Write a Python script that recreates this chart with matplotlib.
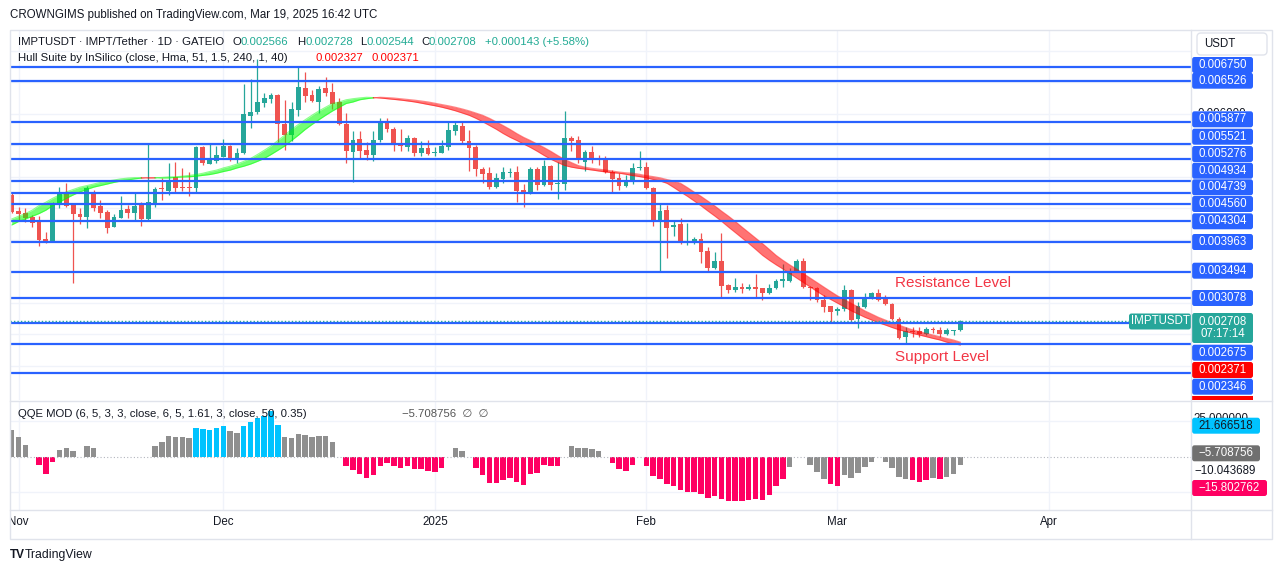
import numpy as np
import matplotlib
matplotlib.use("Agg")
import matplotlib.pyplot as plt
from matplotlib.lines import Line2D
from matplotlib.patches import Rectangle, FancyBboxPatch
from matplotlib.transforms import blended_transform_factory

# daily candles, day 0 = 2024-10-31 ... day 139 = 2025-03-19, prices in 1e-6 USDT
open_u = [4710, 4455, 4429, 4365, 4312, 4010, 3968, 4561, 4763, 4561,
          4407, 4365, 4763, 4540, 4444, 4206, 4349, 4487, 4429, 4561,
          4328, 4566, 4815, 4778, 4990, 4842, 4842, 4826, 5467, 5208,
          5255, 5319, 5489, 5266, 5383, 5966, 6024, 6167, 6241, 6300,
          5833, 5664, 6061, 6416, 6300, 6194, 6416, 6347, 6194, 5838,
          5399, 5595, 5425, 5345, 5579, 5860, 5759, 5504, 5478, 5621,
          5383, 5451, 5372, 5383, 5478, 5732, 5812, 5568, 5467, 5123,
          5054, 4842, 4964, 5054, 5070, 4789, 4747, 5123, 4868, 5171,
          4879, 4879, 5610, 5584, 5239, 5393, 5282, 5277, 5080, 4974,
          4858, 4922, 5133, 5149, 4815, 4312, 4471, 4195, 4248, 3941,
          3968, 4010, 3819, 3554, 3660, 3279, 3199, 3241, 3220, 3241,
          3225, 3146, 3225, 3348, 3348, 3502, 3666, 3253, 3237, 3041,
          2951, 2866, 2898, 3200, 2734, 2935, 3078, 3147, 3052, 2977,
          2739, 2447, 2553, 2553, 2495, 2575, 2564, 2495, 2553, 2566]
high_u = [4736, 4524, 4498, 4392, 4376, 4116, 4604, 4842, 4906, 4577,
          4498, 4853, 4789, 4630, 4471, 4407, 4699, 4550, 4752, 4604,
          5515, 4831, 4974, 5213, 5239, 5133, 5080, 5489, 5489, 5515,
          5489, 5600, 5499, 5451, 6474, 6554, 6870, 6337, 6337, 6310,
          6220, 6194, 6750, 6671, 6379, 6443, 6591, 6485, 6247, 6008,
          5727, 5727, 5558, 5732, 5928, 5928, 5785, 5759, 5664, 5632,
          5573, 5584, 5467, 5584, 5865, 5865, 5865, 5743, 5504, 5160,
          5149, 5054, 5149, 5133, 5171, 4884, 5149, 5149, 5266, 5186,
          5239, 6050, 5648, 5648, 5425, 5489, 5345, 5330, 5107, 5054,
          5028, 5213, 5414, 5239, 4842, 4577, 4550, 4301, 4338, 4270,
          4047, 4100, 3888, 3798, 4111, 3294, 3385, 3305, 3294, 3453,
          3236, 3294, 3374, 3610, 3545, 3688, 3704, 3264, 3253, 3121,
          2951, 2935, 3280, 3216, 3015, 3147, 3174, 3211, 3121, 2988,
          2776, 2606, 2606, 2606, 2617, 2617, 2606, 2590, 2570, 2728]
low_u = [4418, 4312, 4286, 4206, 3904, 3941, 3968, 4498, 4524, 3316,
         4243, 4179, 4460, 4338, 4111, 4206, 4338, 4338, 4301, 4222,
         4312, 4513, 4630, 4709, 4747, 4773, 4699, 4763, 5186, 5202,
         5224, 5308, 5255, 5213, 5361, 5769, 5992, 6114, 6178, 5558,
         5425, 5568, 5971, 6183, 6183, 6008, 6289, 6072, 5823, 5213,
         4922, 5293, 5266, 5255, 5558, 5716, 5414, 5414, 5414, 5330,
         5335, 5345, 5335, 5372, 5425, 5664, 5515, 5096, 5017, 4895,
         4800, 4815, 4906, 4990, 4604, 4524, 4725, 4789, 4853, 4789,
         4641, 4789, 5414, 5213, 5096, 5213, 5186, 5054, 4736, 4789,
         4842, 4884, 5107, 4800, 4222, 3506, 3713, 4058, 3925, 3914,
         3925, 3623, 3480, 3528, 3082, 3157, 3172, 3146, 3199, 3066,
         3040, 3130, 3210, 3253, 3333, 3481, 3237, 3041, 3015, 2856,
         2670, 2803, 2871, 2707, 2601, 2909, 3052, 3025, 2962, 2723,
         2421, 2352, 2458, 2447, 2484, 2522, 2458, 2484, 2484, 2544]
close_u = [4444, 4413, 4349, 4270, 3994, 3968, 4577, 4752, 4540, 4407,
           4365, 4815, 4508, 4429, 4190, 4365, 4471, 4429, 4540, 4328,
           4604, 4805, 4800, 4937, 4826, 4826, 4826, 5478, 5224, 5282,
           5345, 5489, 5266, 5372, 5997, 6034, 6183, 6257, 6300, 5833,
           5664, 6077, 6432, 6289, 6209, 6395, 6337, 6162, 5833, 5414,
           5584, 5414, 5345, 5584, 5865, 5754, 5504, 5489, 5610, 5383,
           5451, 5361, 5399, 5489, 5743, 5823, 5573, 5462, 5118, 5043,
           4842, 4974, 5070, 5070, 4778, 4736, 5123, 4868, 5171, 4868,
           4895, 5610, 5573, 5266, 5393, 5277, 5266, 5070, 4964, 4858,
           4922, 5144, 5149, 4815, 4312, 4455, 4190, 4232, 3941, 3978,
           4005, 3808, 3554, 3660, 3268, 3199, 3241, 3220, 3241, 3220,
           3157, 3225, 3342, 3370, 3507, 3666, 3253, 3227, 3041, 2935,
           2856, 2898, 3200, 2723, 2951, 3094, 3147, 3041, 2972, 2739,
           2442, 2553, 2538, 2495, 2575, 2559, 2495, 2564, 2565, 2708]

# Hull Suite MHULL, starting two days before day 0 (1e-6 USDT)
hull_u = [4234, 4289, 4329, 4372, 4415, 4469, 4542, 4596, 4658, 4711, 4760, 4798,
          4835, 4860, 4885, 4911, 4932, 4949, 4967, 4979, 4986, 4986,
          4981, 4982, 4990, 4997, 5000, 5009, 5022, 5035, 5056, 5083,
          5106, 5140, 5168, 5202, 5245, 5291, 5354, 5421, 5490, 5577,
          5661, 5752, 5831, 5906, 5978, 6046, 6106, 6165, 6189, 6224,
          6241, 6254, 6264, 6259, 6252, 6241, 6230, 6219, 6205, 6190,
          6170, 6149, 6129, 6106, 6079, 6049, 6014, 5978, 5930, 5874,
          5815, 5755, 5688, 5628, 5577, 5521, 5466, 5405, 5339, 5278,
          5227, 5180, 5153, 5135, 5122, 5108, 5092, 5076, 5064, 5057,
          5040, 5019, 5003, 4984, 4957, 4933, 4897, 4830, 4758, 4690,
          4615, 4539, 4456, 4377, 4293, 4202, 4115, 4027, 3940, 3847,
          3752, 3673, 3601, 3534, 3463, 3391, 3320, 3248, 3177, 3108,
          3050, 2991, 2933, 2870, 2819, 2767, 2724, 2679, 2644, 2604,
          2568, 2541, 2511, 2485, 2458, 2431, 2406, 2371, 2345, 2327]

# QQE MOD histogram (None = not plotted); g grey, b blue, p pink
qqe_vals = [18.7, 13.6, 8.2, None, -5.8, -12.1, -3.7, 4.7, 5.8, 4.0,
            None, 7.5, 5.8, None, None, None, None, None, None, None,
            None, 7.5, 10.3, 14.5, 14.0, 14.0, 13.3, 20.3, 19.4, 18.7,
            20.1, 21.7, 18.0, 16.6, 21.7, 24.3, 26.9, 28.5, 32.0, 22.2,
            13.8, 12.9, 16.1, 15.4, 13.8, 14.5, 14.5, 10.5, None, -6.3,
            -9.3, -12.1, -15.0, -12.9, -6.3, -4.2, -6.3, -7.7, -6.3, -8.6,
            -8.6, -9.8, -10.7, -7.7, None, 6.1, 4.0, None, -7.7, -12.9,
            -18.2, -18.2, -16.4, -15.0, -17.5, -19.9, -12.1, -11.2, -5.8, -6.3,
            -6.3, None, 7.5, 6.1, 6.1, 5.1, 4.0, None, -4.2, -8.6,
            -9.8, -5.8, None, -6.3, -13.6, -15.7, -19.2, -20.6, -23.4, -24.8,
            -24.8, -26.2, -29.0, -27.6, -29.7, -31.1, -31.1, -31.1, -30.4, -29.7,
            -30.4, -26.9, -20.6, -15.7, -7.2, None, None, -5.8, -10.7, -15.7,
            -19.2, -20.6, -12.9, -15.0, -11.2, -7.2, -3.7, None, -3.7, -7.9,
            -14.3, -15.7, -16.4, -17.8, -16.4, -15.0, -15.7, -14.3, -12.1, -5.7]
qqe_kind = ("ggg-pppggg" "-gg-------" "-ggggggbbb" "bbggbbbbbb" "gggggggg-p"
            "pppppppppp" "pppp-gg-pp" "pppppppppp" "p-ggggg-pp" "pp-ppppppp"
            "pppppppppp" "ppppg--ggg" "ppggggg-gg" "ggpppgpggg")

levels = [0.006750, 0.006526, 0.005877, 0.005521, 0.005276, 0.004934, 0.004739,
          0.004560, 0.004304, 0.003963, 0.003494, 0.003078, 0.002675, 0.002346,
          0.001886]
grid_prices = [0.0020, 0.0025, 0.0030, 0.0035, 0.0040, 0.0045, 0.0050, 0.0055,
               0.0060, 0.0065, 0.0070]
month_days = [1, 31, 62, 93, 121, 152]
month_labels = ["Nov", "Dec", "2025", "Feb", "Mar", "Apr"]
qqe_last = [21.666518, -5.708756, -10.043689, -15.802762]

W, H = 1281, 573
UP, DOWN = "#26a69a", "#ef5350"
BLUE = "#2962ff"
GRID = "#f0f3fa"
BORDER = "#e0e3eb"
TEXT = "#131722"
QQE_COLORS = {"g": "#8f8f8f", "b": "#00c3ff", "p": "#ff0062"}


def fx(px):
    return px / W


def fy(py):
    return 1 - py / H


def box(x0, y0, x1, y1):
    return [fx(x0), fy(y1), fx(x1) - fx(x0), fy(y0) - fy(y1)]


def minus(v):
    return f"{v:.6f}".replace("-", "\u2212")


def tag(x0, yc, s, fc, w=61, hgt=16, color="white", **kw):
    """Price-scale label: a rounded box of fixed pixel size with centred text."""
    fig.add_artist(FancyBboxPatch((x0 / 100, (H - yc - hgt / 2) / 100), w / 100, hgt / 100,
                                  boxstyle="round,pad=0,rounding_size=0.025",
                                  transform=fig.dpi_scale_trans, fc=fc, ec="none"))
    fig.text(fx(x0 + w / 2), fy(yc), s, ha="center", va="center", color=color,
             fontsize=8.3, **kw)


def hidden_text(x, y, s, visible_bottom):
    """Axis text that is mostly covered by the label below it: only its top shows."""
    t = fig.text(fx(x), fy(y), s, ha="left", va="center", fontsize=8.3, color=TEXT)
    clip = Rectangle((x - 2, H - visible_bottom), 70, 12, transform=None)
    t.set_clip_path(clip)


plt.rcParams["font.family"] = ["Liberation Sans", "DejaVu Sans"]
fig = plt.figure(figsize=(W / 100, H / 100), dpi=100, facecolor="white")

o = np.array(open_u) * 1e-6
h = np.array(high_u) * 1e-6
l = np.array(low_u) * 1e-6
c = np.array(close_u) * 1e-6
days = np.arange(len(o))
xlim = (-0.25, 172.8)

# ---- main price pane
ax = fig.add_axes(box(10, 30, 1191, 400))
ax.set_xlim(*xlim)
ax.set_ylim(0.001452, 0.007333)
ax.set_xticks(month_days)
ax.set_yticks(grid_prices)
ax.tick_params(length=0, labelbottom=False, labelleft=False)
ax.grid(True, color=GRID, lw=1)
ax.set_axisbelow(True)
for sp in ax.spines.values():
    sp.set_visible(False)

colors = np.where(c >= o, UP, DOWN)
ax.vlines(days, l, h, colors=colors, lw=0.9, zorder=2)
ax.bar(days, np.maximum(np.abs(c - o), 1.6e-5), bottom=np.minimum(o, c),
       width=0.7, color=colors, lw=0, zorder=2.2)

# Hull band: MHULL vs MHULL two bars back
hull = np.array(hull_u) * 1e-6
m, s = hull[2:], hull[:-2]
rising = m > s
start = 0
for i in range(1, len(days)):
    last = i == len(days) - 1
    if last or rising[i + 1] != rising[i]:
        seg = slice(start, i + 1)
        col = "#00ff00" if rising[i] else "#ff0000"
        ax.fill_between(days[seg], m[seg], s[seg], color=col, alpha=0.55, lw=0, zorder=3)
        ax.plot(days[seg], m[seg], color=col, lw=0.8, alpha=0.45, zorder=3)
        ax.plot(days[seg], s[seg], color=col, lw=0.8, alpha=0.45, zorder=3)
        start = i

ax.hlines(levels, xlim[0], xlim[1], color=BLUE, lw=1.6, zorder=4)
ax.axhline(c[-1], color=UP, lw=1, ls=(0, (1, 1.5)), zorder=4.5)

# ---- QQE MOD pane
axq = fig.add_axes(box(10, 401, 1191, 510))
axq.set_xlim(*xlim)
axq.set_ylim(-37.3, 39.0)
axq.set_xticks(month_days)
axq.set_yticks([-25, 25])
axq.tick_params(length=0, labelbottom=False, labelleft=False)
axq.grid(True, color=GRID, lw=1)
axq.set_axisbelow(True)
for sp in axq.spines.values():
    sp.set_visible(False)
q = np.array([np.nan if v is None else v for v in qqe_vals])
qc = np.array([QQE_COLORS.get(k, "none") for k in qqe_kind])
ok = ~np.isnan(q)
axq.bar(days[ok], q[ok], width=0.8, color=qc[ok], lw=0, zorder=2)
axq.axhline(0, color="#b2b5be", lw=0.8, ls=(0, (1, 2)), zorder=3)

# ---- time axis
axt = fig.add_axes(box(10, 510, 1191, 539))
axt.set_xlim(*xlim)
axt.set_ylim(0, 1)
axt.axis("off")
tr = blended_transform_factory(axt.transData, axt.transAxes)
for d, t in zip(month_days, month_labels):
    axt.text(d, 0.57, t, transform=tr, ha="center", va="center", fontsize=8.3,
             color=TEXT, clip_on=True)

# ---- frame lines
fig.add_artist(Rectangle((fx(10), fy(539)), fx(1272) - fx(10), fy(30) - fy(539),
                         transform=fig.transFigure, fill=False, ec=BORDER, lw=1))
for yy in (400.5, 510):
    fig.add_artist(Line2D([fx(10), fx(1272)], [fy(yy), fy(yy)], color=BORDER, lw=1))
fig.add_artist(Line2D([fx(1191), fx(1191)], [fy(30), fy(539)], color=BORDER, lw=1))
fig.add_artist(FancyBboxPatch((11.97, (H - 55) / 100), 0.70, 0.22,
                              boxstyle="round,pad=0,rounding_size=0.04",
                              transform=fig.dpi_scale_trans, fc="white", ec=BORDER, lw=1))
fig.text(fx(1204), fy(44), "USDT", ha="left", va="center", fontsize=8.3, color=TEXT)

# ---- price axis labels (stacked like the reference)
hidden_text(1197, 114, f"{grid_prices[8]:.6f}", 111)
label_y = [65, 80.7, 119.3, 136.7, 154, 170.7, 187.3, 204, 221.3, 242, 270.7,
           298, 352.7, 386.7]
for v, yy in zip(levels, label_y):
    tag(1192, yy, f"{v:.6f}", BLUE)
tag(1192, 328, f"{c[-1]:.6f}\n07:17:14", UP, hgt=30, linespacing=1.05)
tag(1129, 321.5, "IMPTUSDT", UP, w=62, hgt=16)
tag(1192, 370, f"{s[-1]:.6f}", "#ff0000")
fig.add_artist(Rectangle((fx(1192), fy(400)), fx(61), fy(0) - fy(4),
                         transform=fig.transFigure, fc="#ff0000", ec="none"))

hidden_text(1193, 419, "25.000000", 417.5)
tag(1192, 425.7, f"{qqe_last[0]:.6f}", "#00c3ff", w=68, color=TEXT)
tag(1192, 453.3, minus(qqe_last[1]), "#707070", w=68)
fig.text(fx(1194), fy(470.7), minus(qqe_last[2]), ha="left", va="center",
         fontsize=8.3, color=TEXT)
tag(1192, 488, minus(qqe_last[3]), "#ff0062", w=75)

# ---- legends / header
fig.text(fx(10), fy(15), "CROWNGIMS published on TradingView.com, Mar 19, 2025 16:42 UTC",
         ha="left", va="center", fontsize=8.3, color=TEXT)
VAL = "#22ab94"
fig.text(fx(18), fy(42), "IMPTUSDT \u00b7 IMPT/Tether \u00b7 1D \u00b7 GATEIO",
         ha="left", va="center", fontsize=8.2, color=TEXT)
for key, kx, val, vx in [("O", 232.7, o[-1], 240.8), ("H", 296.7, h[-1], 305),
                         ("L", 360, l[-1], 366.5), ("C", 421.6, c[-1], 428.6)]:
    fig.text(fx(kx), fy(42), key, ha="left", va="center", fontsize=8.2, color=TEXT)
    fig.text(fx(vx), fy(42), f"{val:.6f}", ha="left", va="center", fontsize=8.2, color=VAL)
chg = c[-1] - c[-2]
fig.text(fx(485), fy(42), f"+{chg:.6f} (+{chg / c[-2] * 100:.2f}%)",
         ha="left", va="center", fontsize=8.2, color=VAL)
fig.text(fx(18), fy(58), "Hull Suite by InSilico (close, Hma, 51, 1.5, 240, 1, 40)",
         ha="left", va="center", fontsize=8.2, color=TEXT)
fig.text(fx(315), fy(58), f"{m[-1]:.6f}", ha="left", va="center", fontsize=8.2, color="#ff0000")
fig.text(fx(371.4), fy(58), f"{s[-1]:.6f}", ha="left", va="center", fontsize=8.2, color="#ff0000")

fig.text(fx(18), fy(414), "QQE MOD (6, 5, 3, 3, close, 6, 5, 1.61, 3, close, 50, 0.35)",
         ha="left", va="center", fontsize=8.2, color=TEXT)
fig.text(fx(402), fy(414), minus(qqe_last[1]) + "  \u2205  \u2205",
         ha="left", va="center", fontsize=8.2, color="#555555")

fig.text(fx(895), fy(283), "Resistance Level", ha="left", va="center", fontsize=11, color="#f23645")
fig.text(fx(895), fy(357), "Support Level", ha="left", va="center", fontsize=11, color="#f23645")

fig.text(fx(10), fy(555), "TV", ha="left", va="center", fontsize=8.5, weight="heavy", color=TEXT)
fig.text(fx(25), fy(555), "TradingView", ha="left", va="center", fontsize=8.8, color=TEXT)

fig.savefig("out.png", dpi=100, facecolor="white")
